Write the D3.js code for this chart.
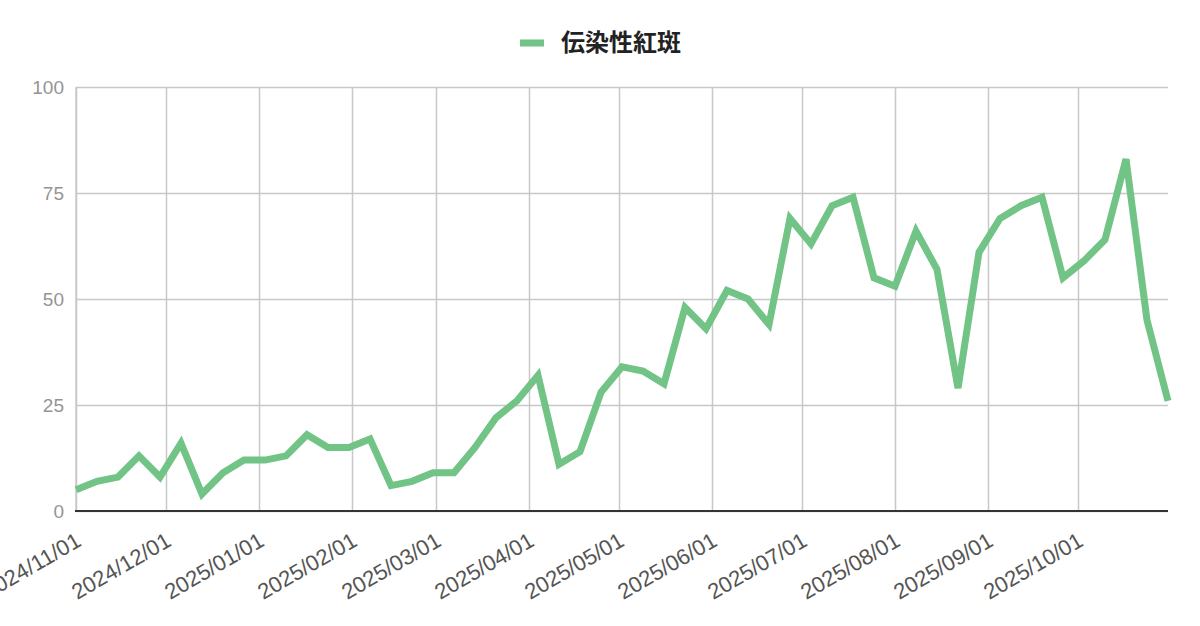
<!DOCTYPE html>
<html>
<head>
<meta charset="utf-8">
<script src="https://cdn.jsdelivr.net/npm/d3@7"></script>
<style>
  html, body { margin: 0; padding: 0; background: #fff; }
  svg { display: block; font-family: "Liberation Sans", Arial, sans-serif; }
</style>
</head>
<body>
<div id="chart-container"></div>
<script>
const seriesName = "伝染性紅斑";
const startDate = "2024-11-01";
const weeklyValues = [
  5, 7, 8, 13, 8, 16, 4, 9, 12, 12,
  13, 18, 15, 15, 17, 6, 7, 9, 9, 15,
  22, 26, 32, 11, 14, 28, 34, 33, 30, 48,
  43, 52, 50, 44, 69, 63, 72, 74, 55, 53,
  66, 57, 29, 61, 69, 72, 74, 55, 59, 64,
  83, 45, 26,
];
const yTicks = [0, 25, 50, 75, 100];

const width = 1200;
const height = 626;
const margin = { top: 87, right: 32, bottom: 115, left: 76 };
const lineColor = "#71c386";

const parseDate = d3.timeParse("%Y-%m-%d");
const first = parseDate(startDate);
const data = weeklyValues.map((v, i) => ({
  date: d3.timeDay.offset(first, i * 7),
  value: v,
}));

const x = d3
  .scaleTime()
  .domain(d3.extent(data, (d) => d.date))
  .range([margin.left, width - margin.right]);

const y = d3
  .scaleLinear()
  .domain([0, 100])
  .range([height - margin.bottom, margin.top]);

const monthTicks = d3.timeMonth.range(
  d3.timeMonth.ceil(x.domain()[0]),
  x.domain()[1]
);
const formatTick = d3.timeFormat("%Y/%m/%d");

const svg = d3
  .select("#chart-container")
  .append("svg")
  .attr("width", width)
  .attr("height", height);

// horizontal grid + y labels
svg
  .append("g")
  .attr("transform", `translate(${margin.left},0)`)
  .call(
    d3
      .axisLeft(y)
      .tickValues(yTicks)
      .tickSize(-(width - margin.left - margin.right))
      .tickPadding(12)
  )
  .call((g) => g.select(".domain").remove())
  .call((g) =>
    g.selectAll(".tick line").attr("stroke", "#c8c8c8").attr("stroke-width", 1.5)
  )
  .call((g) =>
    g
      .selectAll(".tick text")
      .attr("fill", "#949494")
      .attr("font-size", "19px")
  );

// vertical grid lines at month starts
svg
  .append("g")
  .attr("transform", `translate(0,${height - margin.bottom})`)
  .call(
    d3
      .axisBottom(x)
      .tickValues(monthTicks)
      .tickSize(-(height - margin.top - margin.bottom))
      .tickFormat(formatTick)
  )
  .call((g) => g.select(".domain").remove())
  .call((g) =>
    g.selectAll(".tick line").attr("stroke", "#c8c8c8").attr("stroke-width", 1.5)
  )
  .call((g) =>
    g
      .selectAll(".tick text")
      .attr("fill", "#555555")
      .attr("font-size", "22px")
      .style("text-anchor", "end")
      .attr("dy", null)
      .attr("y", 0)
      .attr("transform", "translate(6,34) rotate(-30)")
  );

// left edge line
svg
  .append("line")
  .attr("x1", margin.left)
  .attr("x2", margin.left)
  .attr("y1", margin.top)
  .attr("y2", height - margin.bottom)
  .attr("stroke", "#c8c8c8")
  .attr("stroke-width", 1.5);

// baseline
svg
  .append("line")
  .attr("x1", margin.left - 1)
  .attr("x2", width - margin.right)
  .attr("y1", y(0))
  .attr("y2", y(0))
  .attr("stroke", "#333333")
  .attr("stroke-width", 2);

const line = d3
  .line()
  .x((d) => x(d.date))
  .y((d) => y(d.value));

svg
  .append("path")
  .datum(data)
  .attr("d", line)
  .attr("fill", "none")
  .attr("stroke", lineColor)
  .attr("stroke-width", 7)
  .attr("stroke-linejoin", "miter");

// legend
const legend = svg.append("g").attr("transform", "translate(520,43)");

legend
  .append("rect")
  .attr("x", 0)
  .attr("y", -3.5)
  .attr("width", 24)
  .attr("height", 7)
  .attr("fill", lineColor);

legend
  .append("text")
  .text(seriesName)
  .attr("x", 41)
  .attr("dy", "0.35em")
  .attr("fill", "#222222")
  .attr("font-size", "24px")
  .attr("font-weight", "bold")
  .style("font-family", '"Noto Sans CJK JP", sans-serif');
</script>
</body>
</html>
